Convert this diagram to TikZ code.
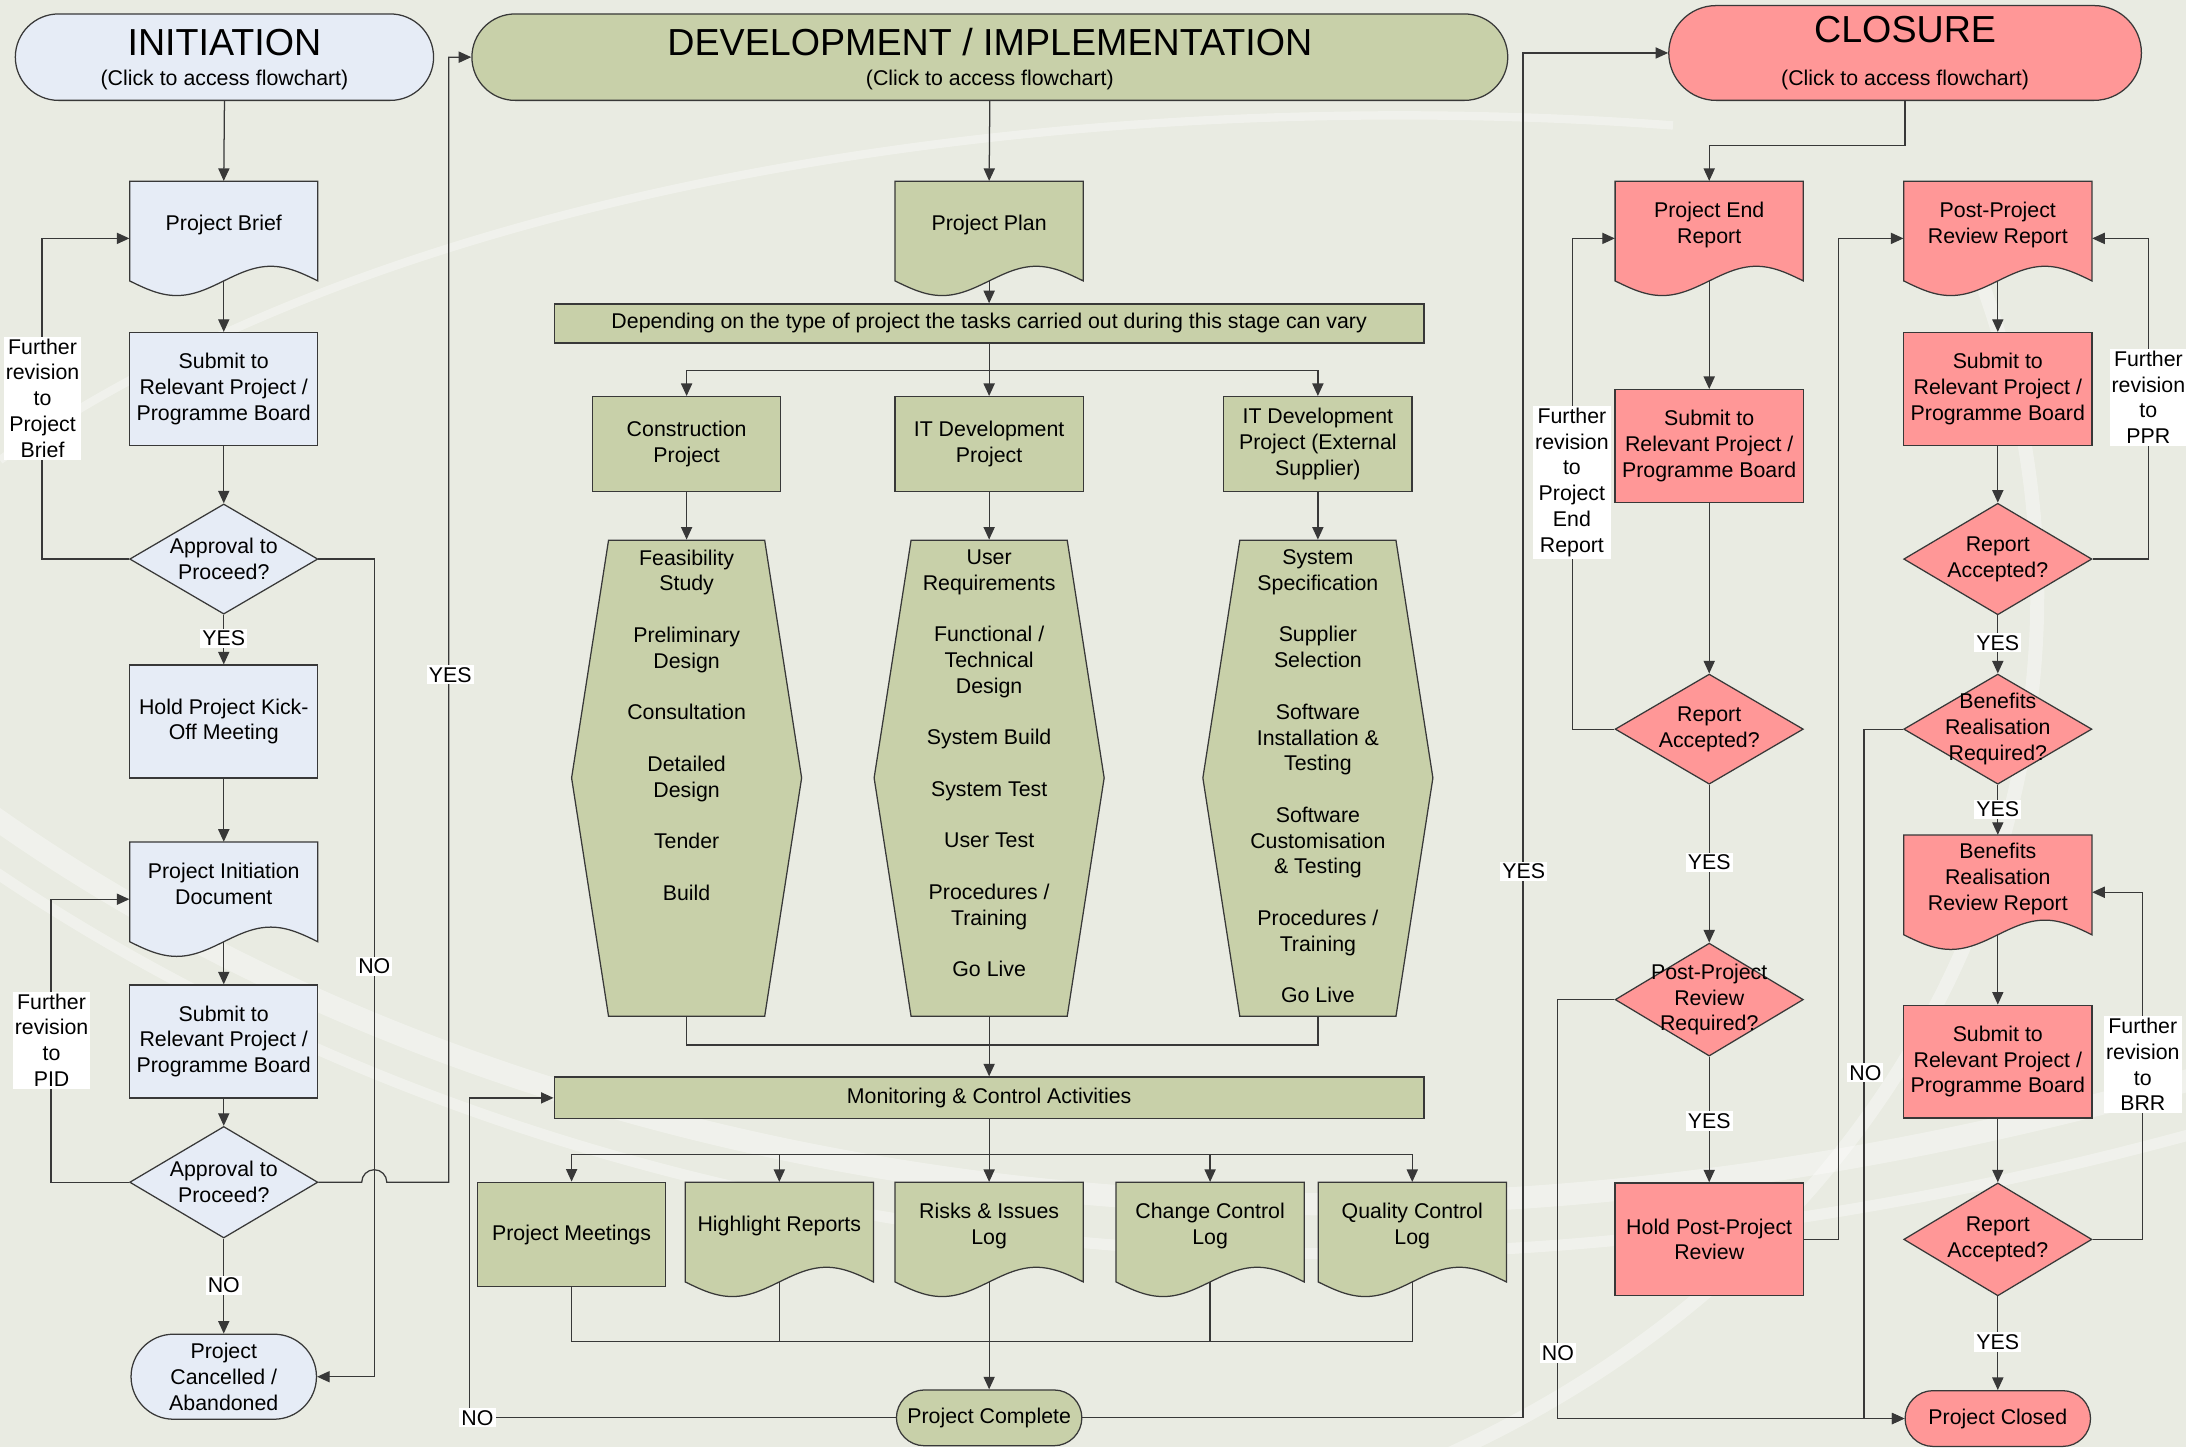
\documentclass[tikz,border=0pt]{standalone}
\usepackage{fontspec}
\setmainfont{Liberation Sans}
\usepackage{tikz}
\usetikzlibrary{shapes.geometric,shapes.misc,arrows.meta}
\usepackage{xcolor}
\definecolor{bgcol}{HTML}{E9EBE2}
\definecolor{inicol}{HTML}{E6ECF6}
\definecolor{devcol}{HTML}{C8D0A9}
\definecolor{clocol}{HTML}{FF9797}
\definecolor{linecol}{HTML}{383838}

\begin{document}
\begin{tikzpicture}[x=1pt,y=-1pt,
  every node/.style={font=\fontsize{15.3}{18.5}\selectfont, align=center},
  line/.style={draw=linecol, line width=0.9pt},
  arr/.style={line, -{Triangle[length=9pt,width=8pt]}},
  proc/.style={rectangle, draw=linecol, line width=0.9pt, minimum width=135pt, minimum height=81pt, inner sep=2pt},
  pics/docpic/.style={code={\filldraw[fill=#1, draw=linecol, line width=0.9pt]
      (-67.5,30.5) -- (-67.5,-41) -- (67.5,-41) -- (67.5,30.5) sin (33.75,20) cos (0,30.5) sin (-33.75,41) cos (-67.5,30.5) -- cycle;}},
  doc/.style={rectangle, minimum width=135pt, minimum height=82pt, inner sep=2pt, text depth=22pt},
  decision/.style={diamond, draw=linecol, line width=0.9pt, minimum width=135pt, minimum height=79pt, inner sep=0pt},
  term/.style={rounded rectangle, draw=linecol, line width=0.9pt, minimum width=135pt, minimum height=40pt, inner sep=1pt},
  stage/.style={term, minimum height=62pt},
  banner/.style={rectangle, draw=linecol, line width=0.9pt, fill=devcol, minimum width=624pt, minimum height=28pt},
  hexa/.style={draw=linecol, line width=0.9pt, fill=devcol},
  hexbox/.style={rectangle, minimum width=112pt, minimum height=341.5pt, inner sep=0pt},
  tasks/.style={inner sep=0pt},
  lbl/.style={fill=white, inner sep=1.5pt},
  swirl/.style={white, opacity=0.35, line width=16pt}
]
\useasboundingbox (0,0) rectangle (1568,1038);
\fill[bgcol] (0,0) rectangle (1568,1038);
\draw[swirl] (-40,560) .. controls (300,820) and (900,980) .. (1620,760);
\draw[swirl, line width=8pt] (-40,600) .. controls (320,860) and (900,1010) .. (1620,800);
\draw[swirl, line width=10pt] (1000,1060) .. controls (1400,900) and (1560,500) .. (1400,150);
\draw[swirl, line width=6pt] (0,330) .. controls (300,120) and (800,60) .. (1200,90);

% development tasks
\filldraw[hexa] (436.5,387.5) -- (548.5,387.5) -- (575,558) -- (548.5,729) -- (436.5,729) -- (410,558) -- cycle;
\filldraw[hexa] (653.5,387.5) -- (765.5,387.5) -- (792,558) -- (765.5,729) -- (653.5,729) -- (627,558) -- cycle;
\filldraw[hexa] (889.3,387.5) -- (1001.3,387.5) -- (1027.8,558) -- (1001.3,729) -- (889.3,729) -- (862.8,558) -- cycle;

% initiation
\node[stage, fill=inicol, minimum width=302pt] (ini) at (161,41) {{\fontsize{27}{27}\selectfont\rule{0pt}{22.3pt}INITIATION}\\[3.3pt](Click to access flowchart)};
\pic at (160.5,171) {docpic=inicol};
\node[doc] (brief) at (160.5,171) {Project Brief};
\node[proc, fill=inicol] (sub1) at (160.5,279) {Submit to\\Relevant Project /\\Programme Board};
\node[decision, fill=inicol, label={center:Approval to\\Proceed?}] (appr1) at (160.5,401) {};
\node[proc, fill=inicol] (kick) at (160.5,517.5) {Hold Project Kick-\\Off Meeting};
\pic at (160.5,645) {docpic=inicol};
\node[doc] (pid) at (160.5,645) {Project Initiation\\Document};
\node[proc, fill=inicol] (sub2) at (160.5,747) {Submit to\\Relevant Project /\\Programme Board};
\node[decision, fill=inicol, minimum height=80pt, label={center:Approval to\\Proceed?}] (appr2) at (160.5,848) {};
\node[term, fill=inicol, minimum height=61pt] (cancel) at (160.5,987.5) {Project\\Cancelled /\\Abandoned};

% development
\node[stage, fill=devcol, minimum width=745pt] (dev) at (710,41) {{\fontsize{27}{27}\selectfont\rule{0pt}{22.3pt}DEVELOPMENT / IMPLEMENTATION}\\[3.3pt](Click to access flowchart)};
\pic at (709.5,171) {docpic=devcol};
\node[doc] (plan) at (709.5,171) {Project Plan};
\node[banner] (vary) at (709.5,232) {Depending on the type of project the tasks carried out during this stage can vary};
\coordinate (split1) at (709.5,266);
\node[proc, fill=devcol, minimum height=68pt] (cons) at (492.5,318.5) {Construction\\Project};
\node[proc, fill=devcol, minimum height=68pt] (itdev) at (709.5,318.5) {IT Development\\Project};
\node[proc, fill=devcol, minimum height=68pt] (ext) at (945.3,318.5) {IT Development\\Project (External\\Supplier)};
\node[hexbox] (hex1) at (492.5,558) {};
\node[hexbox] (hex2) at (709.5,558) {};
\node[hexbox] (hex3) at (945.3,558) {};
\node[tasks, anchor=north] (tasks1) at (492.5,394) {Feasibility\\Study\\[18.5pt]Preliminary\\Design\\[18.5pt]Consultation\\[18.5pt]Detailed\\Design\\[18.5pt]Tender\\[18.5pt]Build};
\node[tasks, anchor=north] (tasks2) at (709.5,394) {User\\Requirements\\[18.5pt]Functional /\\Technical\\Design\\[18.5pt]System Build\\[18.5pt]System Test\\[18.5pt]User Test\\[18.5pt]Procedures /\\Training\\[18.5pt]Go Live};
\node[tasks, anchor=north] (tasks3) at (945.3,394) {System\\Specification\\[18.5pt]Supplier\\Selection\\[18.5pt]Software\\Installation \&\\Testing\\[18.5pt]Software\\Customisation\\\& Testing\\[18.5pt]Procedures /\\Training\\[18.5pt]Go Live};
\coordinate (hexjoin) at (709.5,749.5);
\node[banner, minimum height=30pt] (mon) at (709.5,787.5) {Monitoring \& Control Activities};
\coordinate (split2) at (709.5,828);
\node[proc, fill=devcol, minimum height=75pt] (pm) at (410,885.5) {Project Meetings};
\pic at (559,889) {docpic=devcol};
\node[doc] (hr) at (559,889) {Highlight Reports};
\pic at (709.5,889) {docpic=devcol};
\node[doc] (ri) at (709.5,889) {Risks \& Issues\\Log};
\pic at (868,889) {docpic=devcol};
\node[doc] (cc) at (868,889) {Change Control\\Log};
\pic at (1013,889) {docpic=devcol};
\node[doc] (qc) at (1013,889) {Quality Control\\Log};
\coordinate (join2) at (709.5,962);
\node[term, fill=devcol] (pcomp) at (709.5,1017) {Project Complete};

% closure
\node[stage, fill=clocol, minimum width=341pt, minimum height=68pt] (clo) at (1366.5,38) {{\fontsize{27}{27}\selectfont CLOSURE}\\[12.3pt](Click to access flowchart)};
\pic at (1226,171) {docpic=clocol};
\node[doc] (per) at (1226,171) {Project End\\Report};
\node[proc, fill=clocol] (sub3) at (1226,320) {Submit to\\Relevant Project /\\Programme Board};
\node[decision, fill=clocol, label={center:Report\\Accepted?}] (rep1) at (1226,523) {};
\node[decision, fill=clocol, minimum height=81pt, label={center:Post-Project\\Review\\Required?}] (pprq) at (1226,717) {};
\node[proc, fill=clocol] (hold) at (1226,889) {Hold Post-Project\\Review};
\pic at (1433,171) {docpic=clocol};
\node[doc] (pprr) at (1433,171) {Post-Project\\Review Report};
\node[proc, fill=clocol] (sub4) at (1433,279) {Submit to\\Relevant Project /\\Programme Board};
\node[decision, fill=clocol, minimum height=80pt, label={center:Report\\Accepted?}] (rep2) at (1433,401) {};
\node[decision, fill=clocol, label={center:Benefits\\Realisation\\Required?}] (ben) at (1433,523) {};
\pic at (1433,640) {docpic=clocol};
\node[doc] (brr) at (1433,640) {Benefits\\Realisation\\Review Report};
\node[proc, fill=clocol] (sub5) at (1433,761.5) {Submit to\\Relevant Project /\\Programme Board};
\node[decision, fill=clocol, minimum height=81pt, label={center:Report\\Accepted?}] (rep3) at (1433,889) {};
\node[term, fill=clocol] (closed) at (1433,1017.5) {Project Closed};

% initiation connectors
\draw[arr] (ini.south) -- (brief.north);
\draw[arr] ([yshift=10.5pt]brief.south) -- (sub1.north);
\draw[arr] (sub1.south) -- (appr1.north);
\draw[arr] (appr1.south) -- (kick.north);
\draw[arr] (kick.south) -- (pid.north);
\draw[arr] ([yshift=10.5pt]pid.south) -- (sub2.north);
\draw[arr] (sub2.south) -- (appr2.north);
\draw[arr] (appr2.south) -- (cancel.north);
\draw[arr] (appr1.west) -- ++(-62.5,0) |- (brief.west);
\draw[arr] (appr2.west) -- ++(-56,0) |- (pid.west);
\draw[arr] (appr1.east) -- ++(40,0) |- (cancel.east);
\draw[arr] (appr2.east) -- ++(31,0) arc (180:360:9) -- ++(44.5,0) |- (dev.west);

% development connectors
\draw[arr] (dev.south) -- (plan.north);
\draw[arr] ([yshift=10.5pt]plan.south) -- (vary.north);
\draw[line] (vary.south) -- (split1);
\draw[arr] (split1) -| (cons.north);
\draw[arr] (split1) -- (itdev.north);
\draw[arr] (split1) -| (ext.north);
\draw[arr] (cons.south) -- (hex1.north);
\draw[arr] (itdev.south) -- (hex2.north);
\draw[arr] (ext.south) -- (hex3.north);
\draw[line] (hex1.south) |- (hexjoin);
\draw[line] (hex3.south) |- (hexjoin);
\draw[arr] (hex2.south) -- (mon.north);
\draw[line] (mon.south) -- (split2);
\draw[arr] (split2) -| (pm.north);
\draw[arr] (split2) -| (hr.north);
\draw[arr] (split2) -- (ri.north);
\draw[arr] (split2) -| (cc.north);
\draw[arr] (split2) -| (qc.north);
\draw[line] (pm.south) |- (join2);
\draw[line] ([yshift=10.5pt]hr.south) |- (join2);
\draw[line] ([yshift=10.5pt]cc.south) |- (join2);
\draw[line] ([yshift=10.5pt]qc.south) |- (join2);
\draw[arr] ([yshift=10.5pt]ri.south) -- (pcomp.north);
\draw[arr] (pcomp.west) -- ++(-306,0) |- (mon.west);
\draw[arr] (pcomp.east) -- ++(316,0) |- (clo.west);

% closure connectors
\draw[arr] (clo.south) -- ++(0,32) -| (per.north);
\draw[arr] ([yshift=10.5pt]per.south) -- (sub3.north);
\draw[arr] (sub3.south) -- (rep1.north);
\draw[arr] (rep1.west) -- ++(-30,0) |- (per.west);
\draw[arr] (rep1.south) -- (pprq.north);
\draw[arr] (pprq.south) -- (hold.north);
\draw[arr] (pprq.west) -- ++(-41,0) |- (closed.west);
\draw[arr] (hold.east) -- ++(25,0) |- (pprr.west);
\draw[arr] ([yshift=10.5pt]pprr.south) -- (sub4.north);
\draw[arr] (sub4.south) -- (rep2.north);
\draw[arr] (rep2.east) -- ++(40,0) |- (pprr.east);
\draw[arr] (rep2.south) -- (ben.north);
\draw[arr] (ben.west) -- ++(-28,0) |- (closed.west);
\draw[arr] (ben.south) -- (brr.north);
\draw[arr] ([yshift=10.5pt]brr.south) -- (sub5.north);
\draw[arr] (sub5.south) -- (rep3.north);
\draw[arr] (rep3.east) -- ++(36,0) |- (brr.east);
\draw[arr] (rep3.south) -- (closed.north);

% labels
\node[lbl] (yes1) at (160.5,458) {YES};
\node[lbl] (fr1) at (30.5,285.5) {Further\\revision\\to\\Project\\Brief};
\node[lbl] (no1) at (268.5,693) {NO};
\node[lbl] (fr2) at (37,746) {Further\\revision\\to\\PID};
\node[lbl] (no2) at (160.5,922) {NO};
\node[lbl] (yes2) at (323,484) {YES};
\node[lbl] (no3) at (342.5,1017) {NO};
\node[lbl] (yes3) at (1093,625) {YES};
\node[lbl] (fr3) at (1127.5,346) {Further\\revision\\to\\Project\\End\\Report};
\node[lbl] (yes4) at (1226,618.5) {YES};
\node[lbl] (yes5) at (1226,804) {YES};
\node[lbl] (no4) at (1117.5,970.5) {NO};
\node[lbl] (fr4) at (1541,285) {Further\\revision\\to\\PPR};
\node[lbl] (yes6) at (1433,461) {YES};
\node[lbl] (no5) at (1338,769.5) {NO};
\node[lbl] (yes7) at (1433,580.5) {YES};
\node[lbl] (fr5) at (1537,763.5) {Further\\revision\\to\\BRR};
\node[lbl] (yes8) at (1433,962.5) {YES};
\end{tikzpicture}
\end{document}
